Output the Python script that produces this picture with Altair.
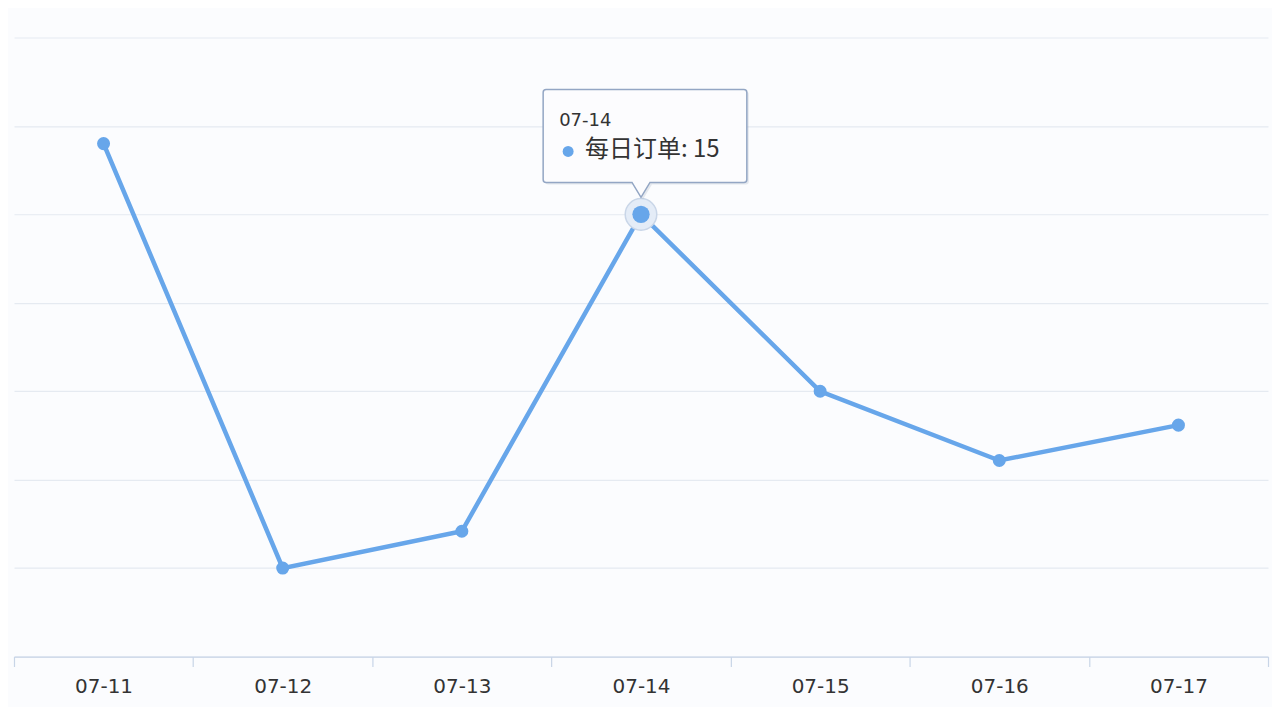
import altair as alt
import pandas as pd

# ---- data ----
days = ["07-11", "07-12", "07-13", "07-14", "07-15", "07-16", "07-17"]
orders = [17.4, 3, 4.25, 15, 9, 6.65, 7.85]
series_name = "每日订单"
highlight_day = "07-14"
y_ticks = [0, 3, 6, 9, 12, 15, 18, 21]

df = pd.DataFrame({"day": days, "orders": orders})
hl = df[df["day"] == highlight_day].copy()
hl["label"] = series_name + ": " + hl["orders"].map(lambda v: f"{v:g}")

LINE = "#67a6ea"
TEXT = "#333333"
CJK = "Noto Sans CJK SC"
LATIN = "DejaVu Sans"

x_enc = alt.X(
    "day:N",
    sort=days,
    scale=alt.Scale(type="band", paddingInner=0, paddingOuter=0),
    axis=alt.Axis(
        title=None,
        labelAngle=0,
        tickBand="extent",
        grid=False,
        domainColor="#c8d5e7",
        domainWidth=1.2,
        tickColor="#c8d5e7",
        tickWidth=1.2,
        tickSize=10,
        labelFont=LATIN,
        labelFontSize=20,
        labelColor=TEXT,
        labelPadding=10,
    ),
)
y_enc = alt.Y(
    "orders:Q",
    scale=alt.Scale(domain=[0, 21], nice=False, zero=True),
    axis=alt.Axis(
        title=None,
        values=y_ticks,
        labels=False,
        ticks=False,
        domain=False,
        grid=True,
        gridColor="#e5eaf1",
        gridWidth=1.2,
    ),
)

base = alt.Chart(df).encode(x=x_enc, y=y_enc)
line = base.mark_line(color=LINE, strokeWidth=4.5)
pts = base.mark_point(filled=True, size=170, color=LINE, opacity=1)

hbase = alt.Chart(hl).encode(x=x_enc, y=y_enc)
halo = hbase.mark_point(shape="circle", filled=True, fill="#e4ecf7", stroke="#c9d6e8",
                        strokeWidth=1.5, size=1000, opacity=1)
hpt = hbase.mark_point(shape="circle", filled=True, color=LINE, size=300, opacity=1)

# callout box: custom symbol path (units of 10px), anchored on the highlighted point
box_path = ("M -9.5 -12.5 L 10.3 -12.5 Q 10.6 -12.5 10.6 -12.2 L 10.6 -3.5 "
            "Q 10.6 -3.2 10.3 -3.2 L 0.9 -3.2 L 0 -1.7 L -0.9 -3.2 L -9.5 -3.2 "
            "Q -9.8 -3.2 -9.8 -3.5 L -9.8 -12.2 Q -9.8 -12.5 -9.5 -12.5 Z")
shadow = hbase.mark_point(shape=box_path, filled=True, fill="#8090a8", opacity=0.18,
                          size=400, xOffset=2, yOffset=2, strokeWidth=0)
box = hbase.mark_point(shape=box_path, filled=True, fill="#fcfcfe", opacity=1,
                       stroke="#93a6c4", strokeWidth=1.5, size=400)
tip_day = hbase.mark_text(align="left", baseline="middle", dx=-82, dy=-94,
                          font=LATIN, fontSize=18, color=TEXT).encode(text="day:N")
tip_dot = hbase.mark_point(shape="circle", filled=True, color=LINE, size=120, opacity=1,
                           xOffset=-73, yOffset=-63)
tip_val = hbase.mark_text(align="left", baseline="middle", dx=-56, dy=-64,
                          font=CJK, fontSize=24, color=TEXT).encode(text="label:N")

chart = (
    alt.layer(line, pts, halo, hpt, shadow, box, tip_day, tip_dot, tip_val)
    .properties(width=1256, height=620,
                padding={"left": 5, "top": 29, "right": 3, "bottom": 10})
    .configure(background="#fbfcfe")
    .configure_view(stroke="transparent")
)

chart.save("out.html", embed_options={"renderer": "svg", "actions": False})
